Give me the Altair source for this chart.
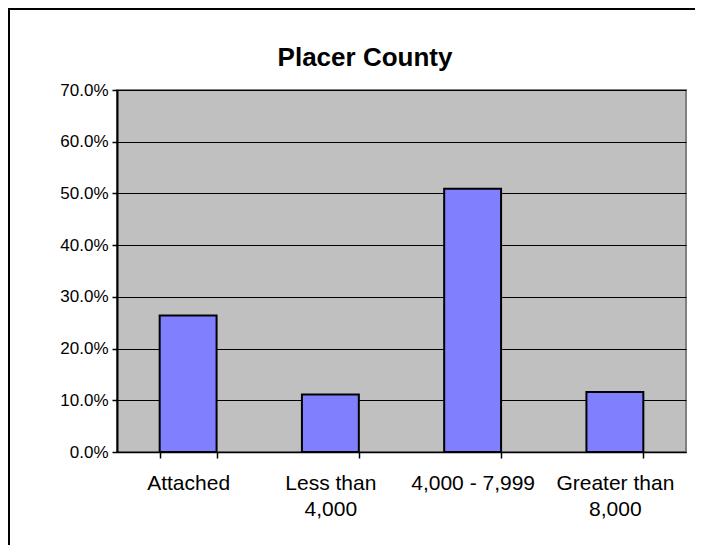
import altair as alt
import pandas as pd

categories = ["Attached", "Less than\n4,000", "4,000 - 7,999", "Greater than\n8,000"]
shares = [0.264, 0.111, 0.509, 0.116]
y_ticks = [0.0, 0.1, 0.2, 0.3, 0.4, 0.5, 0.6, 0.7]
title_text = "Placer County"

df = pd.DataFrame({"category": categories, "share": shares})

FONT = "Liberation Sans"

bars = alt.Chart(df).mark_bar(
    color="#8080FF", stroke="#000000", strokeWidth=2
).encode(
    x=alt.X(
        "category:N",
        sort=categories,
        title=None,
        scale=alt.Scale(paddingInner=0.6, paddingOuter=0.3),
        axis=alt.Axis(
            labelAngle=0,
            labelExpr="split(datum.label, '\\n')",
            labelFontSize=21,
            labelFont=FONT,
            labelColor="#000000",
            labelPadding=14,
            labelLineHeight=26,
            labelBaseline="top",
            tickBand="extent",
            tickSize=6,
            tickColor="#000000",
            tickWidth=1.5,
            domainColor="#000000",
            domainWidth=1.5,
            grid=False,
        ),
    ),
    y=alt.Y(
        "share:Q",
        title=None,
        scale=alt.Scale(domain=[0, 0.7], nice=False),
        axis=alt.Axis(
            values=y_ticks,
            format=".1%",
            labelFontSize=17,
            labelFont=FONT,
            labelColor="#000000",
            labelPadding=4,
            tickSize=5,
            tickColor="#000000",
            tickWidth=1.5,
            domainColor="#000000",
            domainWidth=2,
            grid=True,
            gridColor="#000000",
            gridWidth=1,
            gridOpacity=1,
        ),
    ),
)

deco_data = alt.Data(values=[{"t": title_text}])
frame_left = alt.Chart(deco_data).mark_rule(color="#000000", strokeWidth=2).encode(
    x=alt.value(-108), y=alt.value(-82), y2=alt.value(460)
)
frame_top = alt.Chart(deco_data).mark_rule(color="#000000", strokeWidth=2).encode(
    x=alt.value(-109), x2=alt.value(600), y=alt.value(-81)
)
title_mark = alt.Chart(deco_data).mark_text(
    font=FONT, fontSize=26, fontWeight="bold", color="#000000",
    align="center", baseline="alphabetic"
).encode(
    text="t:N", x=alt.value(248), y=alt.value(-24)
)

chart = alt.layer(bars, frame_left, frame_top, title_mark).properties(
    width=569,
    height=362,
    autosize=alt.AutoSizeParams(type="none"),
    padding={"left": 109, "top": 82, "right": 9, "bottom": 93},
    background="#FFFFFF",
).configure_view(
    fill="#C0C0C0", stroke="#808080", strokeWidth=2
)

chart.save("out.html", embed_options={"renderer": "svg", "actions": False})
